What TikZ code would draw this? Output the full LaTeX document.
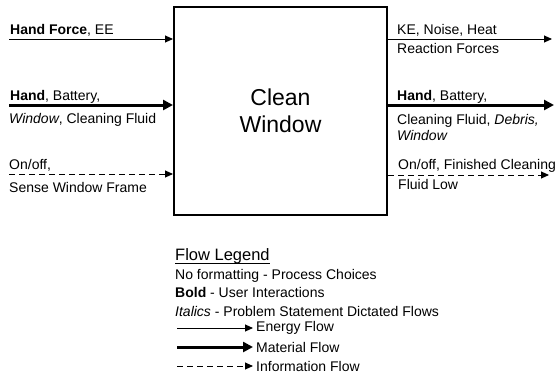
\documentclass[tikz,border=0pt]{standalone}
\usepackage{fontspec}
\setmainfont{Liberation Sans}
\usetikzlibrary{arrows.meta}
\begin{document}
\begin{tikzpicture}[x=1pt,y=-1pt,
  lbl/.style={anchor=base west,inner sep=0pt,font=\fontsize{14}{16}\selectfont},
  energy/.style={line width=0.9pt,-{Triangle[length=8pt,width=7pt]}},
  material/.style={line width=3pt,-{Triangle[length=10pt,width=10pt]}},
  info/.style={line width=0.9pt,dash pattern=on 6pt off 4pt,-{Triangle[length=8pt,width=7pt]}},
  fbox/.style={draw,line width=2pt,minimum width=213pt,minimum height=208pt,inner sep=0pt,align=center,font=\fontsize{23}{27}\selectfont}]
\useasboundingbox (0,0) rectangle (559,376);
\node[fbox] (box) at (280.5,111) {Clean\\Window};
% inputs
\coordinate (ein) at (9,39);
\coordinate (min) at (9,105);
\coordinate (iin) at (9,174);
\draw[energy] (ein) -- (ein -| box.west);
\draw[material] (min) -- (min -| box.west);
\draw[info] (iin) -- (iin -| box.west);
\node[lbl] (t1) at (10,34) {\textbf{Hand Force}, EE};
\node[lbl] (t2) at (10,100) {\textbf{Hand}, Battery,};
\node[lbl] (t3) at (9,123) {\textit{Window}, Cleaning Fluid};
\node[lbl] (t4) at (9,169) {On/off,};
\node[lbl] (t5) at (9,192) {Sense Window Frame};
% outputs
\coordinate (eout) at (552,39);
\coordinate (mout) at (554,105);
\coordinate (iout) at (549,175);
\draw[energy] (eout -| box.east) -- (eout);
\draw[material] (mout -| box.east) -- (mout);
\draw[info] (iout -| box.east) -- (iout);
\node[lbl] (r1) at (397,34) {KE, Noise, Heat};
\node[lbl] (r2) at (397,53) {Reaction Forces};
\node[lbl] (r3) at (397,100) {\textbf{Hand}, Battery,};
\node[lbl] (r4) at (397,124) {Cleaning Fluid, \textit{Debris,}};
\node[lbl] (r5) at (397,140) {\textit{Window}};
\node[lbl] (r6) at (398,169) {On/off, Finished Cleaning};
\node[lbl] (r7) at (398,189) {Fluid Low};
% legend
\node[anchor=base west,inner sep=0pt,font=\fontsize{16.5}{18}\selectfont] (lg) at (175,260) {Flow Legend};
\draw[line width=0.9pt] ([yshift=-3pt]lg.base west) -- ([yshift=-3pt]lg.base east);
\node[lbl] (l1) at (175,279) {No formatting - Process Choices};
\node[lbl] (l2) at (175,297) {\textbf{Bold} - User Interactions};
\node[lbl] (l3) at (175,316) {\textit{Italics} - Problem Statement Dictated Flows};
\node[anchor=west,inner sep=0pt,font=\fontsize{14}{16}\selectfont] (le) at (256,328) {Energy Flow};
\node[anchor=west,inner sep=0pt,font=\fontsize{14}{16}\selectfont] (lm) at (256,347) {Material Flow};
\node[anchor=west,inner sep=0pt,font=\fontsize{14}{16}\selectfont] (li) at (256,366) {Information Flow};
\coordinate (ae) at (177,328);
\coordinate (am) at (177,347);
\coordinate (ai) at (177,366);
\draw[energy] (ae) -- ([xshift=-3pt]le.west);
\draw[material] (am) -- ([xshift=-3pt]lm.west);
\draw[info] (ai) -- ([xshift=-3pt]li.west);
\end{tikzpicture}
\end{document}
